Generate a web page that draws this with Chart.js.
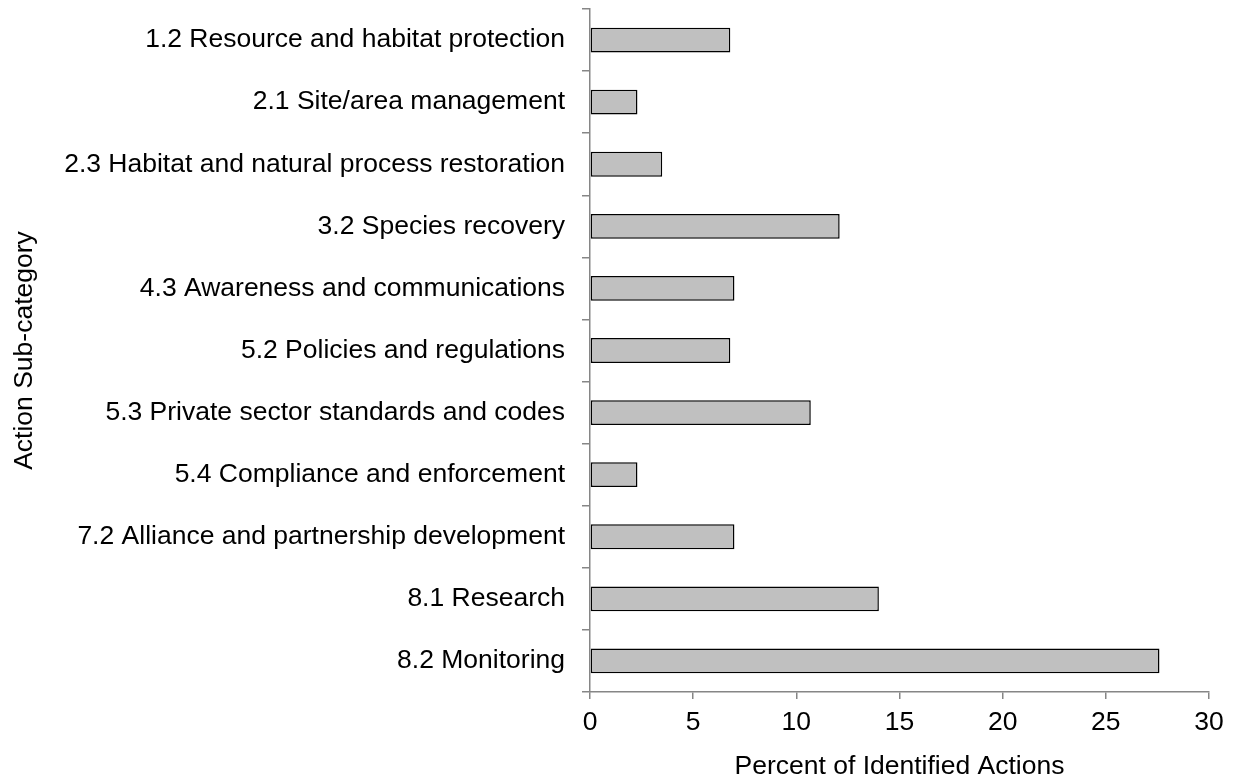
<!DOCTYPE html>
<html lang="en">
<head>
    <meta charset="UTF-8">
    <title>Action Sub-category</title>
    <style>
        * { margin: 0; padding: 0; box-sizing: border-box; }
        body { background: white; }
        #wrap { width: 1233px; height: 783px; }
    </style>
    <script src="https://cdn.jsdelivr.net/npm/chart.js"></script>
</head>
<body>
    <div id="wrap"><canvas id="chart" width="1233" height="783"></canvas></div>
    <script>
        const categories = [
            '1.2 Resource and habitat protection',
            '2.1 Site/area management',
            '2.3 Habitat and natural process restoration',
            '3.2 Species recovery',
            '4.3 Awareness and communications',
            '5.2 Policies and regulations',
            '5.3 Private sector standards and codes',
            '5.4 Compliance and enforcement',
            '7.2 Alliance and partnership development',
            '8.1 Research',
            '8.2 Monitoring'
        ];
        const percentValues = [6.8, 2.3, 3.5, 12.1, 7.0, 6.8, 10.7, 2.3, 7.0, 14.0, 27.6];
        const xTicks = [0, 5, 10, 15, 20, 25, 30];

        const font = { family: "'Liberation Sans', Arial, sans-serif", size: 26.5 };
        const axisGrey = '#868686';

        new Chart(document.getElementById('chart'), {
            type: 'bar',
            data: {
                labels: categories,
                datasets: [{
                    data: percentValues,
                    backgroundColor: '#c0c0c0',
                    borderColor: '#000000',
                    borderWidth: 1.5,
                    borderSkipped: false,
                    barPercentage: 0.4,
                    categoryPercentage: 1
                }]
            },
            options: {
                indexAxis: 'y',
                responsive: false,
                animation: false,
                devicePixelRatio: 1,
                layout: { padding: { left: 5, right: 24, top: 9, bottom: 0 } },
                plugins: { legend: { display: false }, tooltip: { enabled: false } },
                scales: {
                    x: {
                        min: xTicks[0],
                        max: xTicks[xTicks.length - 1],
                        afterBuildTicks: scale => { scale.ticks = xTicks.map(v => ({ value: v })); },
                        afterFit: scale => { scale.height = 91; },
                        border: { display: true, color: axisGrey, width: 1.5 },
                        grid: { drawOnChartArea: false, drawTicks: true, tickLength: 7, color: axisGrey, lineWidth: 1.5 },
                        ticks: { color: '#000', font: font, padding: 8, maxRotation: 0 },
                        title: { display: true, text: 'Percent of Identified Actions', color: '#000', font: font, padding: { top: 0, bottom: 0 } }
                    },
                    y: {
                        afterFit: scale => {
                            scale.width = 585;
                            scale.paddingTop = 0;
                            scale.paddingBottom = 0;
                        },
                        border: { display: true, color: axisGrey, width: 1.5 },
                        grid: { drawOnChartArea: false, drawTicks: true, tickLength: 8, color: axisGrey, lineWidth: 1.5, offset: true },
                        ticks: { color: '#000', font: font, padding: 17, autoSkip: false },
                        title: { display: true, text: 'Action Sub-category', color: '#000', font: font, padding: 4 }
                    }
                }
            }
        });
    </script>
</body>
</html>
